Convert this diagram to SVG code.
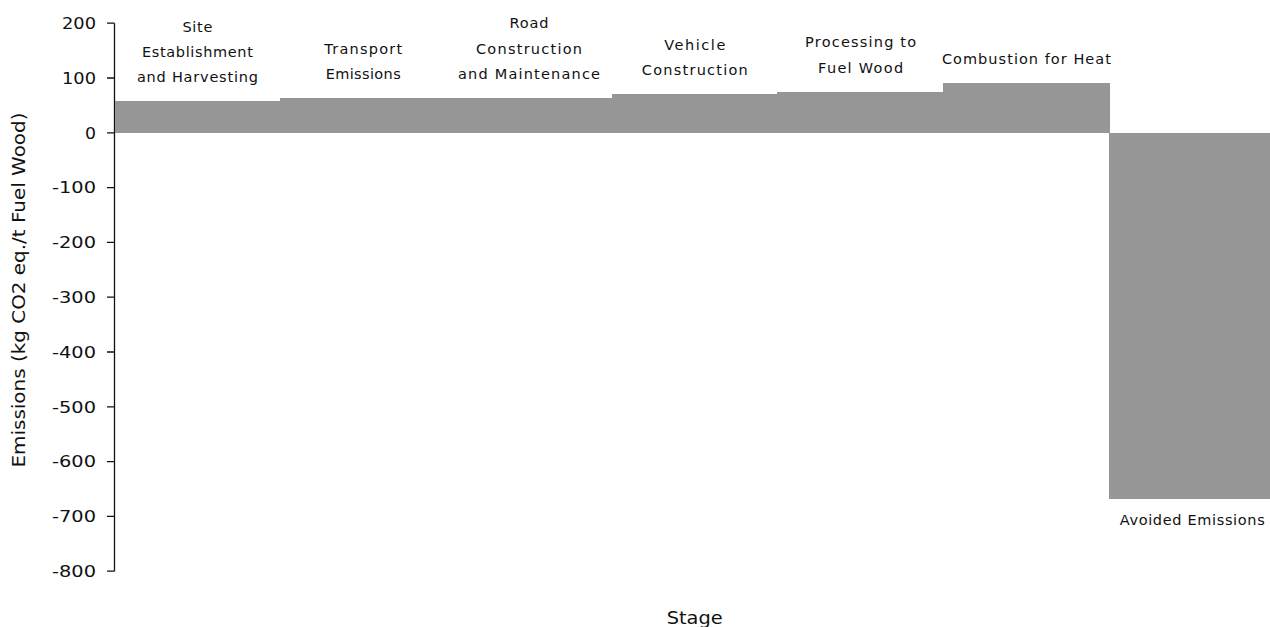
<svg xmlns="http://www.w3.org/2000/svg" width="1270" height="627" viewBox="0 0 1270 627">
  <style>
    .bar { fill: #969696; shape-rendering: crispEdges; }
    .lbl { font-family: "DejaVu Sans", Verdana, sans-serif; font-size: 14.5px; fill: #111; text-anchor: middle; }
    .tick { font-family: "DejaVu Sans", Verdana, sans-serif; font-size: 15.5px; fill: #111; text-anchor: end; }
    .title { font-family: "DejaVu Sans", Verdana, sans-serif; font-size: 17px; fill: #111; text-anchor: middle; }
    .axis { stroke: #111; stroke-width: 1.3; fill: none; }
  </style>
  <rect width="1270" height="627" fill="#ffffff"/>

  <!-- value axis: 0 at y=132.8, 54.8 px per 100 -->
  <g id="y-axis">
    <path class="axis" d="M114.5 23.2 V571.2 M107 23.2 H114.5 M107 78 H114.5 M107 132.8 H114.5 M107 187.6 H114.5 M107 242.4 H114.5 M107 297.2 H114.5 M107 352 H114.5 M107 406.8 H114.5 M107 461.6 H114.5 M107 516.4 H114.5 M107 571.2 H114.5"/>
    <text class="tick" x="96" y="29" textLength="34" lengthAdjust="spacingAndGlyphs">200</text>
    <text class="tick" x="96" y="83.8" textLength="34" lengthAdjust="spacingAndGlyphs">100</text>
    <text class="tick" x="96" y="138.6" textLength="11" lengthAdjust="spacingAndGlyphs">0</text>
    <text class="tick" x="96" y="193.4" textLength="44" lengthAdjust="spacingAndGlyphs">-100</text>
    <text class="tick" x="96" y="248.2" textLength="44" lengthAdjust="spacingAndGlyphs">-200</text>
    <text class="tick" x="96" y="303" textLength="44" lengthAdjust="spacingAndGlyphs">-300</text>
    <text class="tick" x="96" y="357.8" textLength="44" lengthAdjust="spacingAndGlyphs">-400</text>
    <text class="tick" x="96" y="412.6" textLength="44" lengthAdjust="spacingAndGlyphs">-500</text>
    <text class="tick" x="96" y="467.4" textLength="44" lengthAdjust="spacingAndGlyphs">-600</text>
    <text class="tick" x="96" y="522.2" textLength="44" lengthAdjust="spacingAndGlyphs">-700</text>
    <text class="tick" x="96" y="577" textLength="44" lengthAdjust="spacingAndGlyphs">-800</text>
    <text class="title" transform="translate(25 290) rotate(-90)" textLength="355" lengthAdjust="spacingAndGlyphs">Emissions (kg CO2 eq./t Fuel Wood)</text>
  </g>

  <g id="x-title">
    <text class="title" x="694.7" y="623.5" textLength="56" lengthAdjust="spacingAndGlyphs">Stage</text>
  </g>

  <!-- stages, each 166 px wide, drawn on whole pixels so neighbours join without seams -->
  <g id="stage-site">
    <rect class="bar" x="115" y="101" width="166" height="32"/>
    <text class="lbl" x="197.4" y="31.5" textLength="30" lengthAdjust="spacing">Site</text>
    <text class="lbl" x="197.4" y="56.5" textLength="111" lengthAdjust="spacing">Establishment</text>
    <text class="lbl" x="197.4" y="81.5" textLength="121" lengthAdjust="spacing">and Harvesting</text>
  </g>

  <g id="stage-transport">
    <rect class="bar" x="280" y="98" width="167" height="35"/>
    <text class="lbl" x="363.2" y="54.3" textLength="78" lengthAdjust="spacing">Transport</text>
    <text class="lbl" x="363.2" y="79" textLength="75" lengthAdjust="spacing">Emissions</text>
  </g>

  <g id="stage-road">
    <rect class="bar" x="446" y="98" width="167" height="35"/>
    <text class="lbl" x="529" y="28" textLength="39" lengthAdjust="spacing">Road</text>
    <text class="lbl" x="529" y="54" textLength="106" lengthAdjust="spacing">Construction</text>
    <text class="lbl" x="529" y="79" textLength="142" lengthAdjust="spacing">and Maintenance</text>
  </g>

  <g id="stage-vehicle">
    <rect class="bar" x="612" y="94" width="166" height="39"/>
    <text class="lbl" x="694.8" y="50" textLength="61" lengthAdjust="spacing">Vehicle</text>
    <text class="lbl" x="694.8" y="75" textLength="106" lengthAdjust="spacing">Construction</text>
  </g>

  <g id="stage-processing">
    <rect class="bar" x="777" y="92" width="167" height="41"/>
    <text class="lbl" x="860.6" y="47" textLength="111" lengthAdjust="spacing">Processing to</text>
    <text class="lbl" x="860.6" y="72.5" textLength="85" lengthAdjust="spacing">Fuel Wood</text>
  </g>

  <g id="stage-combustion">
    <rect class="bar" x="943" y="83" width="167" height="50"/>
    <text class="lbl" x="1026.4" y="64" textLength="169" lengthAdjust="spacing">Combustion for Heat</text>
  </g>

  <g id="stage-avoided">
    <rect class="bar" x="1109" y="133" width="161" height="366"/>
    <text class="lbl" x="1192.2" y="525" textLength="145" lengthAdjust="spacing">Avoided Emissions</text>
  </g>
</svg>
